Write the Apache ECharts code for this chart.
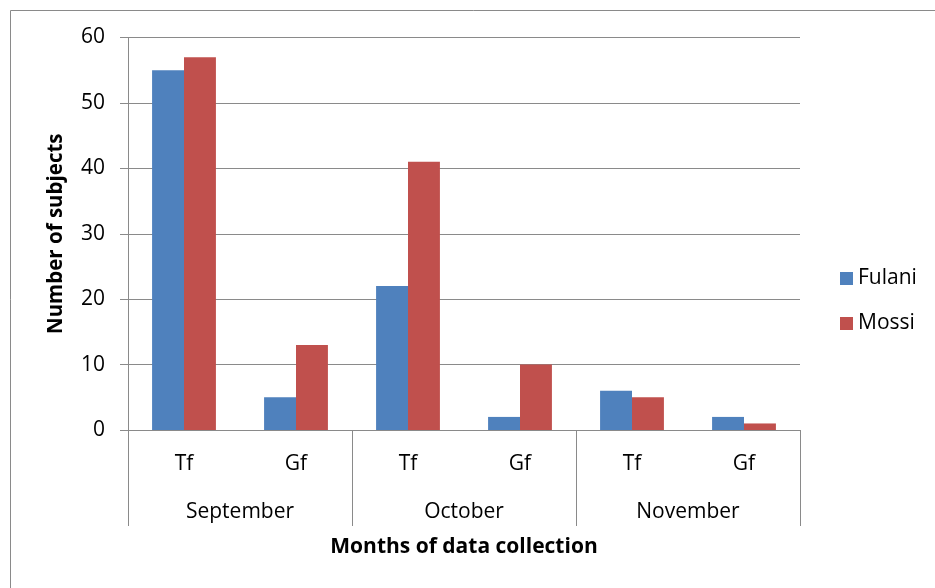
<!DOCTYPE html>
<html>
<head>
<meta charset="utf-8">
<script src="https://cdn.jsdelivr.net/npm/echarts@6/dist/echarts.min.js"></script>
<style>
html,body{margin:0;padding:0;background:#fff;}
#chart{width:935px;height:588px;}
</style>
</head>
<body>
<div id="chart"></div>
<script>
const subCategories = ['Tf', 'Gf', 'Tf', 'Gf', 'Tf', 'Gf'];
const months = ['September', 'October', 'November'];
const fulani = [55, 5, 22, 2, 6, 2];
const mossi = [57, 13, 41, 10, 5, 1];
const yTicks = { min: 0, max: 60, interval: 10 };

const FONT = 'Open Sans';
const chart = echarts.init(document.getElementById('chart'));
chart.setOption({
  animation: false,
  textStyle: { fontFamily: FONT, color: '#000' },
  graphic: [{
    type: 'rect',
    shape: { x: 10.5, y: 10.5, width: 1000, height: 700 },
    style: { fill: 'none', stroke: '#8a8a8a', lineWidth: 1 },
    silent: true
  }],
  grid: { left: 128, right: 135, top: 37.5, bottom: 158 },
  legend: {
    orient: 'vertical',
    left: 835,
    top: 263,
    itemWidth: 13,
    itemHeight: 13,
    itemGap: 24,
    icon: 'rect',
    textStyle: { fontFamily: FONT, fontSize: 21, color: '#000' },
    data: ['Fulani', 'Mossi']
  },
  xAxis: [{
    type: 'category',
    data: subCategories,
    position: 'bottom',
    axisLine: { show: true, lineStyle: { color: '#8a8a8a', width: 1 } },
    axisTick: { show: false },
    axisLabel: { fontFamily: FONT, fontSize: 21, color: '#000', margin: 24 }
  }, {
    type: 'category',
    data: months,
    position: 'bottom',
    axisLine: { show: false },
    axisTick: { show: true, length: 96, lineStyle: { color: '#8a8a8a', width: 1 } },
    axisLabel: { fontFamily: FONT, fontSize: 21, color: '#000', margin: 72 },
    name: 'Months of data collection',
    nameLocation: 'middle',
    nameGap: 107,
    nameTextStyle: { fontFamily: FONT, fontSize: 21, fontWeight: 'bold', color: '#000' }
  }],
  yAxis: {
    type: 'value',
    min: yTicks.min,
    max: yTicks.max,
    interval: yTicks.interval,
    axisLine: { show: true, lineStyle: { color: '#8a8a8a', width: 1 } },
    axisTick: { show: true, length: 8, lineStyle: { color: '#8a8a8a' } },
    splitLine: { show: true, lineStyle: { color: '#8a8a8a', width: 1 } },
    axisLabel: { fontFamily: FONT, fontSize: 21, color: '#000', margin: 23 },
    name: 'Number of subjects',
    nameLocation: 'middle',
    nameRotate: 90,
    nameGap: 61,
    nameTextStyle: { fontFamily: FONT, fontSize: 20.5, fontWeight: 'bold', color: '#000' }
  },
  series: [{
    name: 'Fulani',
    type: 'bar',
    xAxisIndex: 0,
    data: fulani,
    barGap: '0%',
    barCategoryGap: '43%',
    itemStyle: { color: '#4F81BD' }
  }, {
    name: 'Mossi',
    type: 'bar',
    xAxisIndex: 0,
    data: mossi,
    barGap: '0%',
    barCategoryGap: '43%',
    itemStyle: { color: '#C0504D' }
  }]
});
</script>
</body>
</html>
